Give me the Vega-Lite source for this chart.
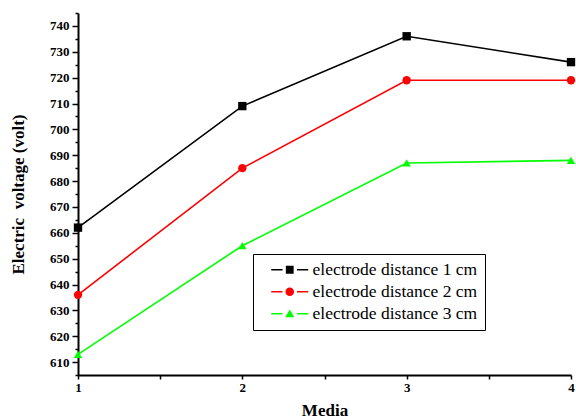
{
  "$schema": "https://vega.github.io/schema/vega-lite/v6.json",
  "width": 493,
  "height": 362,
  "autosize": {"type": "none"},
  "padding": {"left": 78, "top": 13, "right": 5, "bottom": 44},
  "background": "white",
  "config": {
    "view": {"stroke": null},
    "font": "Liberation Serif",
    "axis": {"grid": false, "domainColor": "black", "domainWidth": 2, "tickColor": "black", "tickWidth": 1.5,
      "labelFont": "Liberation Serif", "labelFontWeight": "bold", "labelFontSize": 13, "labelColor": "black",
      "titleFont": "Liberation Serif", "titleFontWeight": "bold", "titleFontSize": 17, "titleColor": "black"},
    "legend": {"orient": "none", "legendX": 175, "legendY": 241,
      "strokeColor": "black", "fillColor": "white", "padding": 7,
      "symbolSize": 144, "symbolOpacity": 1, "symbolStrokeWidth": 0, "symbolOffset": 21,
      "labelFont": "Liberation Serif", "labelFontSize": 17.5, "labelColor": "black",
      "labelLimit": 300, "rowPadding": 3, "labelOffset": 14}
  },
  "data": {
    "values": [
      {"media": 1, "voltage": 662, "series": "electrode distance 1 cm"},
      {"media": 2, "voltage": 709, "series": "electrode distance 1 cm"},
      {"media": 3, "voltage": 736, "series": "electrode distance 1 cm"},
      {"media": 4, "voltage": 726, "series": "electrode distance 1 cm"},
      {"media": 1, "voltage": 636, "series": "electrode distance 2 cm"},
      {"media": 2, "voltage": 685, "series": "electrode distance 2 cm"},
      {"media": 3, "voltage": 719, "series": "electrode distance 2 cm"},
      {"media": 4, "voltage": 719, "series": "electrode distance 2 cm"},
      {"media": 1, "voltage": 613, "series": "electrode distance 3 cm"},
      {"media": 2, "voltage": 655, "series": "electrode distance 3 cm"},
      {"media": 3, "voltage": 687, "series": "electrode distance 3 cm"},
      {"media": 4, "voltage": 688, "series": "electrode distance 3 cm"}
    ]
  },
  "encoding": {
    "x": {"field": "media", "type": "quantitative", "title": "Media",
      "scale": {"domain": [1, 4], "nice": false, "zero": false},
      "axis": {"values": [1, 1.5, 2, 2.5, 3, 3.5, 4], "labelExpr": "datum.value % 1 === 0 ? format(datum.value, 'd') : ''",
        "tickSize": 4, "titlePadding": 8, "labelPadding": 2, "labelFlush": false}},
    "y": {"field": "voltage", "type": "quantitative", "title": "Electric\u00a0\u00a0voltage (volt)",
      "scale": {"domain": [605, 745], "nice": false, "zero": false},
      "axis": {"values": [605, 610, 615, 620, 625, 630, 635, 640, 645, 650, 655, 660, 665, 670, 675, 680, 685, 690, 695, 700, 705, 710, 715, 720, 725, 730, 735, 740, 745],
        "labelExpr": "datum.value % 10 === 0 ? datum.label : ''",
        "tickSize": {"condition": {"test": "datum.value % 10 === 0", "value": 6}, "value": 3},
        "titlePadding": 22, "labelPadding": 3}},
    "color": {"field": "series", "type": "nominal",
      "scale": {"range": ["#000000", "#ff0000", "#00ff00"]}, "legend": null}
  },
  "layer": [
    {"mark": {"type": "line", "strokeWidth": 1.6}},
    {"mark": {"type": "point", "filled": true, "opacity": 1},
      "encoding": {"shape": {"field": "series", "type": "nominal",
        "scale": {"range": ["square", "circle", "triangle-up"]}, "legend": null},
        "size": {"value": 70}}},
    {"mark": {"type": "point", "filled": true, "opacity": 0},
      "encoding": {
        "color": {"field": "series", "type": "nominal", "title": null,
          "scale": {"range": ["#000000", "#ff0000", "#00ff00"]}, "legend": {}},
        "shape": {"field": "series", "type": "nominal", "title": null,
        "scale": {"range": [
          "M-3.08,-0.13H-1.2V0.13H-3.08Z M-0.65,-0.65H0.65V0.65H-0.65Z M1.2,-0.13H3.08V0.13H1.2Z",
          "M-3.08,-0.13H-1.2V0.13H-3.08Z M-0.72,0A0.72,0.72 0 1,0 0.72,0A0.72,0.72 0 1,0 -0.72,0Z M1.2,-0.13H3.08V0.13H1.2Z",
          "M-3.08,-0.13H-1.2V0.13H-3.08Z M0,-0.72L0.75,0.6L-0.75,0.6Z M1.2,-0.13H3.08V0.13H1.2Z"]},
        "legend": {}}}}
  ],
  "resolve": {"scale": {"shape": "independent", "color": "independent"}}
}
